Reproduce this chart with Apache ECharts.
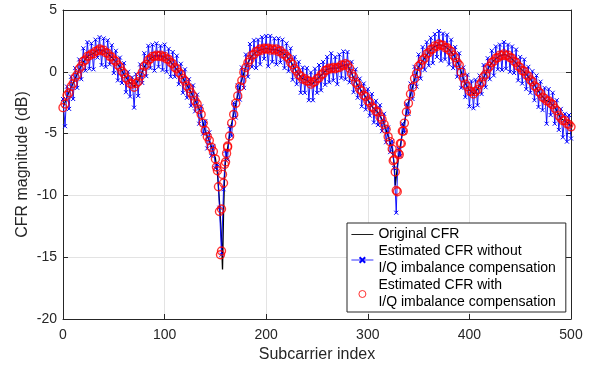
<!DOCTYPE html>
<html>
<head>
<meta charset="utf-8">
<script src="https://cdn.jsdelivr.net/npm/echarts@6/dist/echarts.min.js"></script>
<style>
  html, body { margin: 0; padding: 0; background: #fff; }
  #chart { width: 594px; height: 368px; }
</style>
</head>
<body>
<div id="chart"></div>
<script>
// original CFR (black), sampled where the shape changes
const origX = [0, 5, 10, 15, 20, 25, 30, 35, 40, 45, 50, 55, 60, 65, 70, 75, 80, 85, 90, 95,
  100, 105, 110, 115, 120, 125, 130, 135, 140, 145, 150, 152, 154, 156, 157, 158, 159, 160, 162, 165,
  170, 175, 180, 185, 190, 195, 200, 205, 210, 215, 220, 225, 230, 235, 240, 245, 250, 255, 260, 265,
  270, 275, 280, 285, 290, 295, 300, 305, 310, 315, 320, 324, 326, 327, 328, 330, 332, 335, 340, 345,
  350, 355, 360, 365, 370, 375, 380, 385, 390, 395, 400, 405, 410, 415, 420, 425, 430, 435, 440, 445,
  450, 455, 460, 465, 470, 475, 480, 485, 490, 495, 500];
const origY = [-2.9, -1.8, -0.9, 0.0, 0.8, 1.3, 1.5, 1.8, 1.7, 1.4, 1.0, 0.5, -0.2, -0.8, -1.2, -0.6, 0.4, 1.0, 1.3, 1.3,
  1.2, 0.9, 0.4, -0.1, -0.8, -1.5, -2.3, -3.2, -4.8, -5.8, -7.0, -8.2, -10.5, -13.5, -16.0, -11.5, -8.5, -7.2, -6.2, -4.6,
  -2.6, -0.9, 0.4, 1.2, 1.6, 1.8, 1.9, 1.8, 1.8, 1.6, 1.3, 0.7, 0.0, -0.5, -0.7, -1.0, -0.6, -0.2, 0.2, 0.3,
  0.3, 0.5, 0.6, -0.3, -1.1, -1.7, -2.3, -2.9, -3.3, -4.0, -5.2, -6.2, -7.5, -9.2, -8.5, -7.0, -6.0, -4.5, -2.5, -0.9,
  0.4, 1.0, 1.6, 2.0, 2.2, 2.1, 1.8, 1.3, 0.5, -0.8, -1.5, -1.8, -1.1, -0.3, 0.5, 1.0, 1.3, 1.4, 1.2, 0.8,
  0.3, -0.1, -0.6, -1.2, -1.8, -2.3, -2.5, -3.0, -3.8, -4.0, -4.4];

// estimated CFR without I/Q compensation (blue), every 2nd subcarrier
const blueStep = 2;
const blueY = [
  -2.2, -4.4, -1.2, -3.0, -0.4, -2.2, 0.3, -1.3, 1.0, -0.6,
  1.9, 0.1, 2.4, 0.25, 2.3, 0.2, 2.6, 1.15, 2.8, 0.55,
  2.7, 0.4, 2.55, 0.6, 2.15, -0.1, 1.7, -0.7, 1.15, -0.9,
  0.7, -1.65, 0.0, -2.0, -0.45, -2.9, -0.2, -1.95, 0.6, -0.9,
  1.5, -0.35, 2.1, 0.3, 2.2, 0.1, 2.3, 0.4, 2.1, 0.15,
  2.2, 0.0, 1.85, -0.4, 1.6, -0.4, 1.3, -1.0, 0.65, -1.7,
  0.2, -2.1, -0.6, -2.75, -1.1, -3.2, -1.85, -4.2, -2.8, -5.0,
  -4.0, -6.2, -4.9, -6.8, -6.0, -7.8, -7.5, -11.0, -14.8, -9.5,
  -6.4, -7.1, -4.4, -5.2, -2.5, -3.7, -1.1, -2.25, 0.35, -1.3,
  1.4, -0.4, 2.25, 0.4, 2.55, 0.3, 2.6, 0.6, 2.8, 1.05,
  2.9, 0.45, 2.9, 0.8, 2.7, 0.6, 2.7, 0.75, 2.6, 0.3,
  2.3, 0.05, 1.9, -0.65, 1.2, -1.0, 0.8, -1.7, 0.35, -1.7,
  0.3, -2.3, -0.05, -2.3, 0.25, -1.7, 0.55, -1.5, 0.8, -1.05,
  1.2, -0.85, 1.5, -0.7, 1.2, -1.0, 1.4, -0.5, 1.65, -0.6,
  1.6, -0.85, 0.8, -1.65, 0.2, -2.1, -0.55, -2.8, -0.95, -3.05,
  -1.4, -3.55, -1.8, -4.1, -2.35, -4.3, -2.7, -4.8, -3.4, -5.7,
  -4.5, -6.5, -5.6, -7.8, -11.4, -6.2, -6.8, -4.2, -4.9, -2.6,
  -3.4, -0.95, -2.2, 0.4, -1.2, 1.4, -0.55, 2.0, 0.15, 2.4,
  0.5, 2.75, 0.7, 3.05, 1.2, 3.3, 0.9, 3.1, 1.0, 3.0,
  0.6, 2.6, 0.3, 2.0, -0.4, 1.5, -1.3, 0.35, -2.05, -0.25,
  -2.8, -0.75, -2.95, -0.65, -2.7, -0.3, -1.8, 0.55, -1.25, 1.1,
  -0.6, 1.7, -0.3, 2.05, 0.2, 2.2, 0.15, 2.4, 0.25, 2.2,
  0.0, 2.05, -0.1, 1.8, -0.7, 1.2, -0.95, 1.0, -1.4, 0.4,
  -1.7, 0.05, -2.3, -0.3, -2.85, -0.8, -3.1, -1.3, -4.2, -1.4,
  -3.5, -1.7, -4.2, -2.3, -4.7, -3.0, -5.3, -3.4, -5.65, -3.5,
  -5.4];

// estimated CFR with I/Q compensation (red circles), every 2nd subcarrier
const redStep = 2;
const redY = [
  -2.9, -2.6, -1.9, -1.7, -1.2, -0.95, -0.45, -0.25, 0.25, 0.45,
  0.85, 0.95, 1.25, 1.3, 1.45, 1.45, 1.65, 1.7, 1.85, 1.7,
  1.75, 1.55, 1.5, 1.25, 1.2, 0.95, 0.85, 0.55, 0.4, 0.05,
  -0.15, -0.5, -0.65, -0.95, -1.0, -1.25, -0.95, -0.8, -0.35, -0.05,
  0.45, 0.6, 0.95, 1.05, 1.25, 1.25, 1.35, 1.25, 1.35, 1.2,
  1.25, 1.05, 1.0, 0.75, 0.65, 0.35, 0.25, -0.05, -0.2, -0.55,
  -0.75, -1.15, -1.35, -1.7, -1.95, -2.35, -2.6, -3.05, -3.45, -4.15,
  -4.75, -5.25, -5.55, -6.1, -6.45, -7.05, -8.0, -11.3, -14.5, -9.0,
  -7.3, -6.1, -5.2, -4.15, -3.45, -2.55, -1.95, -1.2, -0.7, -0.05,
  0.35, 0.75, 1.0, 1.35, 1.4, 1.65, 1.65, 1.85, 1.75, 1.9,
  1.85, 1.9, 1.75, 1.85, 1.75, 1.85, 1.65, 1.7, 1.45, 1.45,
  1.25, 1.1, 0.75, 0.6, 0.25, 0.05, -0.25, -0.35, -0.6, -0.55,
  -0.75, -0.75, -1.0, -0.85, -0.8, -0.55, -0.5, -0.25, -0.15, 0.1,
  0.15, 0.3, 0.25, 0.35, 0.25, 0.35, 0.35, 0.55, 0.5, 0.65,
  0.55, 0.3, -0.15, -0.4, -0.85, -1.05, -1.4, -1.55, -1.9, -2.0,
  -2.35, -2.5, -2.85, -2.95, -3.2, -3.25, -3.65, -3.85, -4.25, -4.65,
  -5.25, -5.65, -6.25, -7.1, -9.6, -6.6, -5.8, -4.8, -4.15, -3.25,
  -2.55, -1.8, -1.25, -0.55, -0.15, 0.45, 0.6, 0.95, 1.1, 1.45,
  1.55, 1.8, 1.85, 2.1, 2.05, 2.25, 2.15, 2.15, 1.95, 1.95,
  1.75, 1.65, 1.35, 1.15, 0.75, 0.55, -0.05, -0.5, -1.0, -1.2,
  -1.55, -1.6, -1.8, -1.6, -1.45, -1.05, -0.85, -0.4, -0.2, 0.25,
  0.45, 0.75, 0.85, 1.1, 1.15, 1.35, 1.3, 1.45, 1.3, 1.35,
  1.15, 1.1, 0.85, 0.75, 0.45, 0.35, 0.1, 0.05, -0.25, -0.35,
  -0.65, -0.8, -1.15, -1.25, -1.6, -1.75, -2.05, -2.15, -2.35, -2.35,
  -2.55, -2.65, -2.95, -3.15, -3.55, -3.75, -3.95, -3.95, -4.2, -4.25,
  -4.45];
// extra red circles scattered around the two notches
const redDipX = [151, 153, 155, 156, 157, 159, 161, 162, 325, 327, 329, 331, 333, 335];
const redDipY = [-7.7, -9.3, -14.8, -11.1, -8.3, -7.5, -6.6, -6.0, -7.2, -8.1, -9.7, -6.7, -5.8, -4.8];

const origData = origX.map((x, i) => [x, origY[i]]);
const blueData = blueY.map((v, i) => [i * blueStep, v]);
const redData = redY.map((v, i) => [i * redStep, v])
  .concat(redDipX.map((x, i) => [x, redDipY[i]]));

const font = 'Liberation Sans, Arial, Helvetica, sans-serif';
const axisColor = '#262626';
const gridColor = '#e3e3e3';
const names = [
  'Original CFR',
  'Estimated CFR without\nI/Q imbalance compensation',
  'Estimated CFR with\nI/Q imbalance compensation'
];

const chart = echarts.init(document.getElementById('chart'));

const boxAxis = {
  axisLine: { show: true, onZero: false, lineStyle: { color: axisColor, width: 1 } },
  axisTick: { show: true, inside: true, length: 5, lineStyle: { color: axisColor } },
  axisLabel: { show: false }, splitLine: { show: false }
};

const option = {
  animation: false,
  backgroundColor: '#fff',
  grid: { left: 63, right: 23, top: 10, bottom: 49 },
  xAxis: [
    {
      type: 'value', min: 0, max: 500, interval: 100,
      name: 'Subcarrier index', nameLocation: 'middle', nameGap: 28,
      nameMoveOverlap: false,
      nameTextStyle: { fontFamily: font, fontSize: 16, color: axisColor },
      axisLine: { show: true, onZero: false, lineStyle: { color: axisColor, width: 1 } },
      axisTick: { show: true, inside: true, length: 5, lineStyle: { color: axisColor } },
      axisLabel: { fontFamily: font, fontSize: 14, color: axisColor, margin: 9 },
      splitLine: { show: true, lineStyle: { color: gridColor, width: 1 } }
    },
    Object.assign({ type: 'value', position: 'top', min: 0, max: 500, interval: 100 }, boxAxis)
  ],
  yAxis: [
    {
      type: 'value', min: -20, max: 5, interval: 5,
      name: 'CFR magnitude (dB)', nameLocation: 'middle', nameGap: 32,
      nameMoveOverlap: false,
      nameTextStyle: { fontFamily: font, fontSize: 16, color: axisColor },
      axisLine: { show: true, onZero: false, lineStyle: { color: axisColor, width: 1 } },
      axisTick: { show: true, inside: true, length: 5, lineStyle: { color: axisColor } },
      axisLabel: { fontFamily: font, fontSize: 14, color: axisColor, margin: 6 },
      splitLine: { show: true, lineStyle: { color: gridColor, width: 1 } }
    },
    Object.assign({ type: 'value', position: 'right', min: -20, max: 5, interval: 5 }, boxAxis)
  ],
  legend: {
    orient: 'vertical',
    left: 347, top: 223,
    padding: [3, 10, 1, 4],
    itemGap: 0,
    itemWidth: 22, itemHeight: 7,
    backgroundColor: '#fff',
    borderColor: axisColor, borderWidth: 1, borderRadius: 0,
    textStyle: { fontFamily: font, fontSize: 14, color: '#000', lineHeight: 17 },
    data: [
      { name: names[0], icon: 'path://M0,0L40,0L40,1.6L0,1.6Z' },
      { name: names[1], lineStyle: { width: 0.8 } },
      { name: names[2], itemStyle: { borderWidth: 1 } }
    ]
  },
  series: [
    {
      name: names[0], type: 'line', data: origData,
      showSymbol: false, symbol: 'none',
      lineStyle: { color: '#000', width: 1.3 },
      itemStyle: { color: '#000' }, z: 2
    },
    {
      name: names[1], type: 'line', data: blueData,
      symbol: 'path://M0,0L10,10M0,10L10,0', symbolSize: 4,
      lineStyle: { color: '#0000ff', width: 0.9 },
      itemStyle: { color: '#0000ff', borderColor: '#0000ff', borderWidth: 1 }, z: 3
    },
    {
      name: names[2], type: 'scatter', data: redData,
      symbol: 'circle', symbolSize: 8,
      itemStyle: { color: 'rgba(0,0,0,0)', borderColor: '#ff0000', borderWidth: 1.4 }, z: 4
    }
  ]
};

chart.setOption(option);
</script>
</body>
</html>
